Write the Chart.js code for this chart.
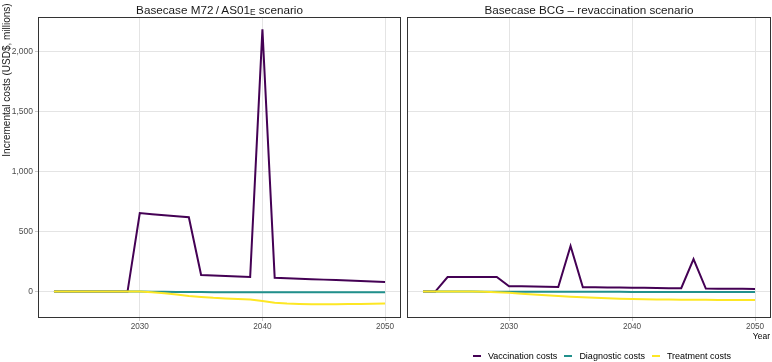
<!DOCTYPE html>
<html>
<head>
<meta charset="utf-8">
<script src="https://cdn.jsdelivr.net/npm/chart.js@4"></script>
<style>
  html, body { margin: 0; padding: 0; background: #fff; }
  #wrap { position: relative; width: 772px; height: 362px; font-family: "Liberation Sans", Arial, sans-serif; }
  canvas { position: absolute; top: 0; }
  #left { left: 0; }
  #right { left: 404px; }
  #yearLabel { position: absolute; right: 2px; top: 331px; font-size: 8.5px; color: #000; }
  #legend { position: absolute; left: 473px; top: 349px; height: 13px; display: flex; align-items: center; font-size: 9px; color: #000; }
  #legend .item { display: flex; align-items: center; margin-right: 7px; }
  #legend .key { width: 8px; height: 2px; margin-right: 7px; }
</style>
</head>
<body>
<div id="wrap">
  <canvas id="left" width="402" height="340"></canvas>
  <canvas id="right" width="368" height="340"></canvas>
  <div id="yearLabel">Year</div>
  <div id="legend"></div>
</div>
<script>
// years on the x axis
const years = [2023, 2024, 2025, 2026, 2027, 2028, 2029, 2030, 2031, 2032, 2033, 2034, 2035, 2036,
               2037, 2038, 2039, 2040, 2041, 2042, 2043, 2044, 2045, 2046, 2047, 2048, 2049, 2050];

const seriesNames = ['Vaccination costs', 'Diagnostic costs', 'Treatment costs'];
const seriesColors = ['#440154', '#21908C', '#FDE725'];

// M72/AS01E scenario (USD$, millions)
const m72Vaccination = [0, 0, 0, 0, 0, 0, 0, 655, 646, 637, 628, 620, 139, 135,
                        130, 126, 122, 2187, 116, 112, 108, 104, 100, 96, 93, 89, 85, 81];
const m72Diagnostic  = [0, 0, 0, 0, 0, 0, 0, 0, -1, -2, -3, -4, -4, -5,
                        -5, -5, -5, -5, -5, -6, -6, -6, -6, -6, -6, -6, -6, -6];
const m72Treatment   = [0, 0, 0, 0, 0, 0, 0, 0, -5, -14, -25, -36, -44, -52,
                        -57, -61, -65, -78, -92, -100, -104, -106, -106, -105, -104, -103, -102, -100];

// BCG revaccination scenario (USD$, millions)
const bcgVaccination = [0, 0, 122, 122, 122, 122, 122, 45, 44, 42, 40, 39, 381, 37,
                        36, 35, 34, 33, 32, 30, 29, 28, 272, 25, 24, 24, 23, 22];
const bcgDiagnostic  = [0, 0, 0, 0, 0, -1, -1, -2, -2, -2, -2, -2, -2, -2,
                        -2, -2, -2, -3, -3, -3, -3, -3, -3, -3, -3, -3, -3, -3];
const bcgTreatment   = [0, 0, 0, 0, 0, -2, -5, -10, -17, -24, -30, -36, -42, -47,
                        -52, -56, -59, -61, -63, -65, -66, -67, -68, -68, -69, -69, -69, -69];

const xTicks = [2030, 2040, 2050];
const yTicks = [0, 500, 1000, 1500, 2000];

const FONT = '"Liberation Sans", Arial, sans-serif';

// draws panel box + strip title (with optional subscript part)
const panelDecor = {
  id: 'panelDecor',
  afterDraw(chart, args, opts) {
    const ctx = chart.ctx, a = chart.chartArea;
    ctx.save();
    ctx.strokeStyle = '#333333';
    ctx.lineWidth = 1;
    const l = Math.round(a.left) + 0.5, t = Math.round(a.top) + 0.5;
    ctx.strokeRect(l, t, Math.round(a.right) - 1 - l + 0.5, Math.round(a.bottom) - 1 - t + 0.5);

    // strip title
    const mainFont = '11.7px ' + FONT, subFont = '8.3px ' + FONT;
    let total = 0;
    opts.parts.forEach(p => {
      ctx.font = p.sub ? subFont : mainFont;
      total += ctx.measureText(p.t).width;
    });
    let x = (a.left + a.right) / 2 - total / 2;
    ctx.fillStyle = '#1a1a1a';
    ctx.textBaseline = 'alphabetic';
    ctx.textAlign = 'left';
    opts.parts.forEach(p => {
      ctx.font = p.sub ? subFont : mainFont;
      ctx.fillText(p.t, x, p.sub ? 15.3 : 13.6);
      x += ctx.measureText(p.t).width;
    });

    if (opts.yTitle) {
      ctx.translate(7, 80);
      ctx.rotate(-Math.PI / 2);
      ctx.font = '10px ' + FONT;
      ctx.textAlign = 'center';
      ctx.textBaseline = 'middle';
      ctx.fillText(opts.yTitle, 0, 0);
    }
    ctx.restore();
  }
};

function makeDatasets(vals) {
  return vals.map((v, i) => ({
    label: seriesNames[i],
    data: years.map((yr, j) => ({ x: yr, y: v[j] })),
    borderColor: seriesColors[i],
    backgroundColor: seriesColors[i],
    borderWidth: 2,
    pointRadius: 0,
    tension: 0,
    order: 3 - i
  }));
}

function makeChart(id, vals, parts, showY, yTitle) {
  return new Chart(document.getElementById(id), {
    type: 'line',
    data: { datasets: makeDatasets(vals) },
    plugins: [panelDecor],
    options: {
      responsive: false,
      animation: false,
      layout: { padding: { top: 17, right: 1, left: 0, bottom: 0 } },
      plugins: {
        legend: { display: false },
        tooltip: { enabled: false },
        panelDecor: { parts: parts, yTitle: yTitle }
      },
      scales: {
        x: {
          type: 'linear',
          min: 2021.7,
          max: 2051.3,
          afterBuildTicks: s => { s.ticks = xTicks.map(v => ({ value: v })); },
          afterFit: s => { s.height = 22; },
          border: { display: false },
          grid: { color: '#e4e4e4', lineWidth: 1, tickLength: 3, tickColor: '#c8c8c8' },
          ticks: {
            font: { family: FONT, size: 8.2 },
            color: '#4d4d4d',
            padding: 1,
            maxRotation: 0,
            callback: v => String(v)
          }
        },
        y: {
          min: -220,
          max: 2290,
          afterBuildTicks: s => { s.ticks = yTicks.map(v => ({ value: v })); },
          afterFit: s => { s.width = showY ? 38 : 3; },
          border: { display: false },
          grid: { color: '#e4e4e4', lineWidth: 1, drawTicks: showY, tickLength: 3, tickColor: '#c8c8c8' },
          ticks: {
            display: showY,
            font: { family: FONT, size: 8.5 },
            color: '#4d4d4d',
            padding: 2,
            callback: v => v.toLocaleString('en-US')
          }
        }
      }
    }
  });
}

makeChart('left', [m72Vaccination, m72Diagnostic, m72Treatment],
  [{ t: 'Basecase M72\u2009/\u2009AS01' }, { t: 'E', sub: true }, { t: ' scenario' }],
  true, 'Incremental costs (USD$, millions)');

makeChart('right', [bcgVaccination, bcgDiagnostic, bcgTreatment],
  [{ t: 'Basecase BCG \u2013 revaccination scenario' }], false, null);

// legend
const legend = document.getElementById('legend');
seriesNames.forEach((name, i) => {
  const item = document.createElement('div');
  item.className = 'item';
  const key = document.createElement('div');
  key.className = 'key';
  key.style.background = seriesColors[i];
  const label = document.createElement('span');
  label.textContent = name;
  item.appendChild(key);
  item.appendChild(label);
  legend.appendChild(item);
});
</script>
</body>
</html>
